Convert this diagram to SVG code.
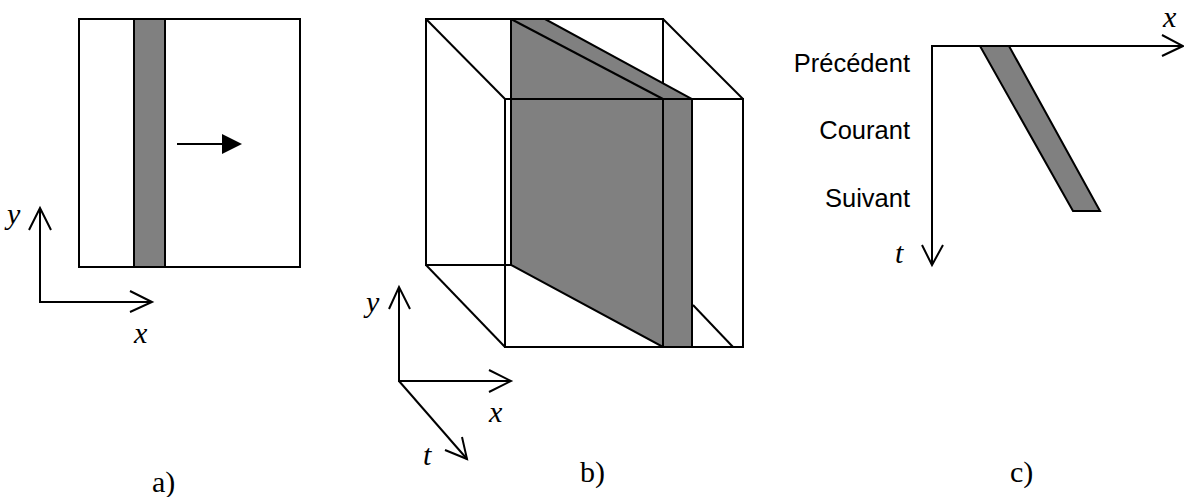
<svg xmlns="http://www.w3.org/2000/svg" width="1184" height="497" viewBox="0 0 1184 497">
<style>
.ln{fill:none;stroke:#000;stroke-width:2;stroke-linejoin:miter}
.sh{fill:#808080;stroke:#000;stroke-width:2}
.var{font-family:"Liberation Serif",serif;font-style:italic;font-size:30px;fill:#000}
.cap{font-family:"Liberation Serif",serif;font-size:30px;fill:#000}
.lab{font-family:"Liberation Sans",Arial,sans-serif;font-size:25.5px;fill:#000;text-anchor:end}
</style>
<rect width="1184" height="497" fill="#fff"/>

<!-- Panel a -->
<g id="panel-a">
  <rect class="ln" x="79" y="19" width="221" height="248"/>
  <rect class="sh" x="134" y="19" width="31" height="248"/>
  <line class="ln" x1="177" y1="144" x2="224" y2="144"/>
  <polygon points="222,134 242,144 222,154" fill="#000"/>
</g>
<g id="axes-a">
  <polyline class="ln" points="40,208 40,302 152,302"/>
  <polyline class="ln" points="29,230 40,208 51,230"/>
  <polyline class="ln" points="130,291 152,302 130,312"/>
  <text class="var" x="7" y="224">y</text>
  <text class="var" x="134" y="343">x</text>
</g>

<!-- Panel b -->
<g id="panel-b">
  <polyline class="ln" points="663,99 663,19 426,19 426,265 511,265"/>
  <line class="ln" x1="426" y1="19" x2="505" y2="99"/>
  <line class="ln" x1="663" y1="19" x2="743" y2="99"/>
  <line class="ln" x1="426" y1="265" x2="505" y2="347"/>
  <line class="ln" x1="693" y1="305" x2="733" y2="347"/>
  <rect class="ln" x="505" y="99" width="238" height="248"/>
  <polygon class="sh" points="511,19 545,19 692,99 692,347 663,347 511,265"/>
  <line class="ln" x1="511" y1="19" x2="663" y2="99"/>
  <line class="ln" x1="663" y1="99" x2="663" y2="347"/>
  <line class="ln" x1="505" y1="99" x2="743" y2="99"/>
  <line class="ln" x1="505" y1="347" x2="743" y2="347"/>
</g>
<g id="axes-b">
  <polyline class="ln" points="399,287 399,381 511,381"/>
  <line class="ln" x1="399" y1="381" x2="467" y2="459"/>
  <polyline class="ln" points="389,309 399,287 410,309"/>
  <polyline class="ln" points="489,370 511,381 489,392"/>
  <polyline class="ln" points="445,450 467,459 462,437"/>
  <text class="var" x="366" y="312">y</text>
  <text class="var" x="489" y="422">x</text>
  <text class="var" x="423" y="465">t</text>
</g>

<!-- Panel c -->
<g id="panel-c">
  <polygon class="sh" points="980,46 1009,46 1100,211 1073,211"/>
  <polyline class="ln" points="932,265 932,46 1183,46"/>
  <polyline class="ln" points="1162,35 1183,46 1162,56"/>
  <polyline class="ln" points="922,245 932,265 943,245"/>
  <text class="var" x="1163" y="27">x</text>
  <text class="var" x="895" y="263">t</text>
  <text class="lab" x="910" y="72">Précédent</text>
  <text class="lab" x="910" y="139">Courant</text>
  <text class="lab" x="910" y="207">Suivant</text>
</g>

<!-- captions -->
<g id="captions">
  <text class="cap" x="152" y="492">a)</text>
  <text class="cap" x="580" y="482">b)</text>
  <text class="cap" x="1010" y="482">c)</text>
</g>
</svg>
